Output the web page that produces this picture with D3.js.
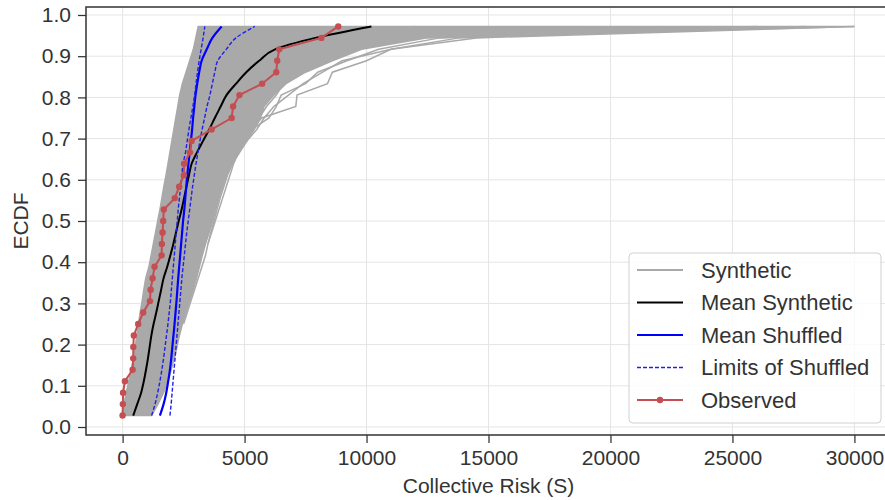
<!DOCTYPE html>
<html>
<head>
<meta charset="utf-8">
<script src="https://cdn.jsdelivr.net/npm/d3@7"></script>
<style>
  body { margin: 0; background: #fff; }
  text { font-family: "Liberation Sans", Arial, sans-serif; fill: #333; }
</style>
</head>
<body>
<div id="root"></div>
<script>
// ECDF levels: 35 sorted values, plotted at i / 36
const nPoints = 35;
const ecdfLevels = d3.range(1, nPoints + 1).map((i) => i / (nPoints + 1));

// Observed collective risk values
const observed = [0, 10, 20, 95, 410, 435, 440, 460, 640, 845, 1120, 1150, 1230, 1310, 1600, 1610, 1640, 1665, 1690, 2140,
  2320, 2510, 2520, 2760, 2830, 3650, 4470, 4530, 4790, 5720, 6300, 6340, 6420, 8150, 8840];

const meanSynthetic = [435, 600, 760, 870, 960, 1040, 1110, 1180, 1270, 1380, 1480, 1580, 1680, 1830, 1960, 2080, 2190, 2300, 2420, 2520,
  2620, 2720, 2830, 3050, 3300, 3550, 3780, 4020, 4260, 4650, 5070, 5600, 6250, 7900, 10200];

const meanShuffled = [1530, 1680, 1790, 1870, 1940, 1995, 2040, 2085, 2130, 2170, 2210, 2245, 2280, 2320, 2360, 2400, 2440, 2480, 2530, 2570,
  2610, 2650, 2700, 2750, 2800, 2850, 2890, 2940, 2990, 3060, 3140, 3240, 3450, 3680, 4060];

const shuffledLow = [1190, 1330, 1440, 1530, 1610, 1680, 1740, 1800, 1860, 1910, 1960, 2000, 2040, 2080, 2120, 2160, 2200, 2240, 2280, 2330,
  2380, 2430, 2480, 2580, 2650, 2720, 2800, 2880, 2950, 3010, 3070, 3140, 3220, 3300, 3370];

const shuffledHigh = [1940, 1990, 2030, 2070, 2110, 2150, 2190, 2230, 2270, 2310, 2350, 2390, 2430, 2480, 2530, 2580, 2630, 2690, 2750, 2810,
  2870, 2940, 3010, 3090, 3170, 3260, 3360, 3460, 3580, 3680, 3780, 3900, 4250, 4650, 5420];

// Synthetic ECDFs: dense band (left / right edges) plus a few outlying runs
const synthLeft = [0, 50, 150, 250, 350, 450, 520, 580, 650, 720, 800, 870, 950, 1080, 1170, 1260, 1350, 1440, 1530, 1610,
  1690, 1780, 1860, 1940, 2020, 2100, 2180, 2260, 2340, 2450, 2600, 2750, 2900, 3000, 3100];
const synthRight = [1190, 1450, 1680, 1860, 1990, 2120, 2230, 2330, 2450, 2600, 2750, 2900, 3030, 3150, 3270, 3400, 3550, 3700, 3820, 3950,
  4100, 4280, 4500, 4800, 5100, 5400, 5650, 5800, 6200, 6700, 7500, 8600, 9800, 12500, 30000];
const synthOutliers = [
  { start: 26, values: [5300, 5700, 7100, 7150, 8400, 8600, 10000, 11000, 13800, 28000] },
  { start: 24, values: [4700, 5000, 5300, 6000, 6300, 6500, 7500, 8000, 9200, 10500, 13000, 26000] },
  { start: 16, values: [3500, 3650, 3800, 3950, 4100, 4250, 4400, 4550, 4750, 5000, 5300, 5600, 5900, 6300, 6600, 7000, 7300, 8100, 9500, 12000] },
  { start: 9, values: [2500, 2650, 2800, 2950, 3100, 3250, 3400, 3500, 3620, 3750, 3870, 4000, 4150, 4300, 4500, 4750, 5100, 5500, 5800, 6200,
    6800, 7400, 8200, 9000, 11000, 14500, 30000] },
];

const xTicks = [0, 5000, 10000, 15000, 20000, 25000, 30000];
const yTicks = [0, 0.1, 0.2, 0.3, 0.4, 0.5, 0.6, 0.7, 0.8, 0.9, 1.0];
const legendItems = ["Synthetic", "Mean Synthetic", "Mean Shuffled", "Limits of Shuffled", "Observed"];

// Colours
const grey = "#a9a9a9";
const red = "#c44e52";
const blue = "#0000ff";
const dashBlue = "#2020e8";

const width = 885;
const height = 500;
const plot = { left: 86, right: 891, top: 7, bottom: 435 };

const svg = d3.select("#root").append("svg").attr("width", width).attr("height", height);

const x = d3.scaleLinear().domain([-1500, 31500]).range([plot.left, plot.right]);
const y = d3.scaleLinear().domain([-0.0194, 1.0194]).range([plot.bottom, plot.top]);

svg.append("defs").append("clipPath").attr("id", "clip")
  .append("rect").attr("x", plot.left).attr("y", plot.top)
  .attr("width", plot.right - plot.left).attr("height", plot.bottom - plot.top);

// Grid
const grid = svg.append("g");
grid.selectAll(".gx").data(xTicks).join("line")
  .attr("x1", (d) => x(d)).attr("x2", (d) => x(d))
  .attr("y1", plot.top).attr("y2", plot.bottom)
  .attr("stroke", "#e5e5e5").attr("stroke-width", 1);
grid.selectAll(".gy").data(yTicks).join("line")
  .attr("x1", plot.left).attr("x2", plot.right)
  .attr("y1", (d) => y(d)).attr("y2", (d) => y(d))
  .attr("stroke", "#e5e5e5").attr("stroke-width", 1);

const chart = svg.append("g").attr("clip-path", "url(#clip)");

const toPoints = (values, start = 1) => values.map((v, i) => [v, ecdfLevels[start - 1 + i]]);
const line = d3.line().x((d) => x(d[0])).y((d) => y(d[1]));
const smoothLine = d3.line().x((d) => x(d[0])).y((d) => y(d[1])).curve(d3.curveMonotoneY);

// Synthetic band
const band = d3.area()
  .y((d, i) => y(ecdfLevels[i]))
  .x0((d, i) => x(synthLeft[i]))
  .x1((d, i) => x(synthRight[i]));
chart.append("path").datum(ecdfLevels).attr("d", band)
  .attr("fill", grey).attr("stroke", grey).attr("stroke-width", 1.5);

synthOutliers.forEach((o) => {
  chart.append("path").datum(toPoints(o.values, o.start)).attr("d", line)
    .attr("fill", "none").attr("stroke", grey).attr("stroke-width", 1.5);
});

// Mean synthetic
chart.append("path").datum(toPoints(meanSynthetic)).attr("d", smoothLine)
  .attr("fill", "none").attr("stroke", "#000").attr("stroke-width", 2);

// Shuffled
chart.append("path").datum(toPoints(meanShuffled)).attr("d", smoothLine)
  .attr("fill", "none").attr("stroke", blue).attr("stroke-width", 2.2);
[shuffledLow, shuffledHigh].forEach((s) => {
  chart.append("path").datum(toPoints(s)).attr("d", smoothLine)
    .attr("fill", "none").attr("stroke", dashBlue).attr("stroke-width", 1.4)
    .attr("stroke-dasharray", "4,2");
});

// Observed
const obsPoints = toPoints(observed);
chart.append("path").datum(obsPoints).attr("d", line)
  .attr("fill", "none").attr("stroke", red).attr("stroke-width", 2);
chart.selectAll(".obs").data(obsPoints).join("circle")
  .attr("cx", (d) => x(d[0])).attr("cy", (d) => y(d[1])).attr("r", 3.2)
  .attr("fill", red);

// Axes
const xAxis = svg.append("g").attr("transform", `translate(0,${plot.bottom})`)
  .call(d3.axisBottom(x).tickValues(xTicks).tickFormat(d3.format("d")).tickSize(8).tickPadding(7));
const yAxis = svg.append("g").attr("transform", `translate(${plot.left},0)`)
  .call(d3.axisLeft(y).tickValues(yTicks).tickFormat(d3.format(".1f")).tickSize(8).tickPadding(7));
[xAxis, yAxis].forEach((a) => {
  a.select(".domain").remove();
  a.selectAll(".tick line").attr("stroke", "#333").attr("stroke-width", 1.25);
  a.selectAll(".tick text").style("font-size", "21px").style("fill", "#333")
    .style("font-family", '"Liberation Sans", Arial, sans-serif');
});

// Spines
svg.append("rect")
  .attr("x", plot.left).attr("y", plot.top)
  .attr("width", plot.right - plot.left).attr("height", plot.bottom - plot.top)
  .attr("fill", "none").attr("stroke", "#333").attr("stroke-width", 1.5);

// Axis labels
svg.append("text")
  .attr("x", (plot.left + plot.right) / 2).attr("y", 493)
  .attr("text-anchor", "middle").style("font-size", "21px")
  .text("Collective Risk (S)");
svg.append("text")
  .attr("transform", `translate(28,${(plot.top + plot.bottom) / 2}) rotate(-90)`)
  .attr("text-anchor", "middle").style("font-size", "21px")
  .text("ECDF");

// Legend
const legend = svg.append("g").attr("transform", "translate(629,253)");
legend.append("rect")
  .attr("width", 252).attr("height", 170).attr("rx", 4)
  .attr("fill", "#fff").attr("fill-opacity", 0.8)
  .attr("stroke", "#d0d0d0").attr("stroke-width", 1);
legendItems.forEach((name, i) => {
  const row = legend.append("g").attr("transform", `translate(0,${17 + i * 32.5})`);
  const l = row.append("line").attr("x1", 8).attr("x2", 54).attr("y1", 0).attr("y2", 0);
  if (i === 0) l.attr("stroke", grey).attr("stroke-width", 2);
  if (i === 1) l.attr("stroke", "#000").attr("stroke-width", 2);
  if (i === 2) l.attr("stroke", blue).attr("stroke-width", 2.2);
  if (i === 3) l.attr("stroke", dashBlue).attr("stroke-width", 1.4).attr("stroke-dasharray", "4,2");
  if (i === 4) {
    l.attr("stroke", red).attr("stroke-width", 2);
    row.append("circle").attr("cx", 31).attr("cy", 0).attr("r", 3.2).attr("fill", red);
  }
  row.append("text").attr("x", 72).attr("y", 0).attr("dy", "0.35em")
    .style("font-size", "22px").text(name);
});
</script>
</body>
</html>
